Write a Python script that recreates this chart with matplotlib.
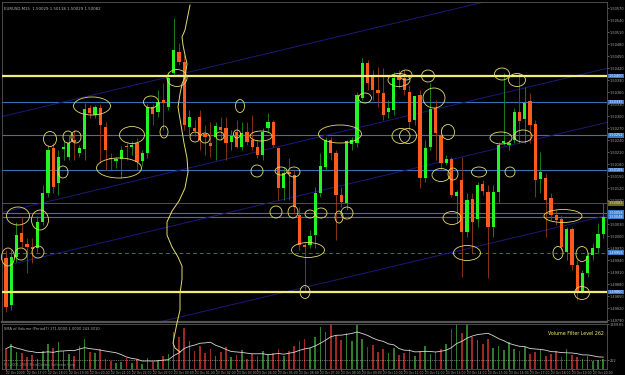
"""EURUSD M15 chart with hand-drawn levels, MT4 style."""

import numpy as np
import pandas as pd
import matplotlib
matplotlib.use("Agg")
import matplotlib.pyplot as plt
import matplotlib.transforms as mtransforms
from matplotlib.patches import Ellipse
from matplotlib.ticker import MultipleLocator, FormatStrFormatter

plt.rcParams.update({"font.family": "DejaVu Sans", "font.size": 3})

W, H = 625, 375

# OHLC, 15 minute bars, 22 Oct 16:00 -> 23 Oct 20:30
opens = [1.49945, 1.49828, 1.49948, 1.50008, 1.49980, 1.49973, 1.49970, 1.50035, 1.50108, 1.50220,
         1.50133, 1.50218, 1.50198, 1.50240, 1.50208, 1.50218, 1.50320, 1.50303, 1.50320, 1.50273,
         1.50195, 1.50188, 1.50193, 1.50225, 1.50223, 1.50233, 1.50188, 1.50208, 1.50323, 1.50310,
         1.50340, 1.50323, 1.50408, 1.50460, 1.50435, 1.50273, 1.50270, 1.50298, 1.50255, 1.50233,
         1.50248, 1.50273, 1.50270, 1.50235, 1.50260, 1.50223, 1.50260, 1.50240, 1.50223, 1.50203,
         1.50270, 1.50285, 1.50220, 1.50120, 1.50160, 1.50153, 1.50053, 1.49978, 1.49978, 1.50003,
         1.50108, 1.50173, 1.50240, 1.50208, 1.50103, 1.50082, 1.50230, 1.50233, 1.50345, 1.50433,
         1.50398, 1.50365, 1.50358, 1.50310, 1.50315, 1.50398, 1.50395, 1.50360, 1.50290, 1.50353,
         1.50145, 1.50223, 1.50320, 1.50253, 1.50183, 1.50193, 1.50100, 1.50140, 1.50010, 1.50093,
         1.50043, 1.50130, 1.50110, 1.50023, 1.50110, 1.50233, 1.50228, 1.50240, 1.50310, 1.50293,
         1.50338, 1.50280, 1.50143, 1.50145, 1.50095, 1.50053, 1.50043, 1.49960, 1.50018, 1.49928,
         1.49860, 1.49908, 1.49953, 1.49970, 1.50005]
highs = [1.49965, 1.49965, 1.50035, 1.50048, 1.49995, 1.49995, 1.50050, 1.50128, 1.50228, 1.50233,
         1.50215, 1.50240, 1.50253, 1.50265, 1.50228, 1.50333, 1.50328, 1.50328, 1.50330, 1.50285,
         1.50208, 1.50198, 1.50225, 1.50233, 1.50238, 1.50245, 1.50215, 1.50330, 1.50330, 1.50365,
         1.50383, 1.50410, 1.50545, 1.50483, 1.50453, 1.50315, 1.50290, 1.50315, 1.50278, 1.50285,
         1.50285, 1.50298, 1.50298, 1.50265, 1.50290, 1.50285, 1.50285, 1.50303, 1.50240, 1.50270,
         1.50308, 1.50290, 1.50223, 1.50173, 1.50195, 1.50165, 1.50073, 1.49983, 1.50015, 1.50123,
         1.50208, 1.50248, 1.50248, 1.50215, 1.50123, 1.50240, 1.50248, 1.50360, 1.50445, 1.50440,
         1.50415, 1.50423, 1.50420, 1.50340, 1.50410, 1.50415, 1.50415, 1.50378, 1.50350, 1.50365,
         1.50240, 1.50383, 1.50340, 1.50273, 1.50203, 1.50198, 1.50115, 1.50198, 1.50108, 1.50108,
         1.50135, 1.50140, 1.50128, 1.50128, 1.50235, 1.50408, 1.50240, 1.50320, 1.50408, 1.50373,
         1.50358, 1.50290, 1.50210, 1.50158, 1.50108, 1.50065, 1.50053, 1.50023, 1.50023, 1.49940,
         1.49915, 1.49960, 1.49983, 1.50033, 1.50082]
lows = [1.49810, 1.49815, 1.49935, 1.49973, 1.49908, 1.49933, 1.49960, 1.50028, 1.50098, 1.50108,
        1.50103, 1.50190, 1.50190, 1.50190, 1.50198, 1.50190, 1.50295, 1.50295, 1.50183, 1.50165,
        1.50165, 1.50170, 1.50145, 1.50190, 1.50203, 1.50165, 1.50175, 1.50195, 1.50278, 1.50298,
        1.50265, 1.50315, 1.50400, 1.50428, 1.50265, 1.50253, 1.50250, 1.50215, 1.50203, 1.50198,
        1.50190, 1.50240, 1.50190, 1.50215, 1.50220, 1.50215, 1.50228, 1.50215, 1.50195, 1.50190,
        1.50260, 1.50223, 1.50090, 1.50090, 1.50090, 1.50058, 1.49965, 1.49865, 1.49970, 1.49970,
        1.50098, 1.50165, 1.50190, 1.49990, 1.50073, 1.50065, 1.50215, 1.50223, 1.50340, 1.50365,
        1.50340, 1.50323, 1.50290, 1.50295, 1.50303, 1.50370, 1.50353, 1.50265, 1.50278, 1.50120,
        1.50135, 1.50215, 1.50190, 1.50165, 1.50178, 1.50098, 1.50033, 1.49898, 1.49998, 1.49958,
        1.50023, 1.50103, 1.49895, 1.49998, 1.50082, 1.50228, 1.50215, 1.50233, 1.50233, 1.50233,
        1.50233, 1.50098, 1.50108, 1.49998, 1.50040, 1.50028, 1.49965, 1.49940, 1.49915, 1.49840,
        1.49858, 1.49898, 1.49940, 1.49958, 1.49995]
closes = [1.49823, 1.49948, 1.50003, 1.49985, 1.49973, 1.49968, 1.50035, 1.50108, 1.50215, 1.50123,
          1.50198, 1.50223, 1.50233, 1.50235, 1.50220, 1.50318, 1.50308, 1.50323, 1.50278, 1.50215,
          1.50193, 1.50193, 1.50215, 1.50223, 1.50228, 1.50185, 1.50208, 1.50323, 1.50305, 1.50335,
          1.50333, 1.50395, 1.50465, 1.50435, 1.50278, 1.50298, 1.50263, 1.50240, 1.50248, 1.50225,
          1.50275, 1.50265, 1.50233, 1.50250, 1.50223, 1.50258, 1.50235, 1.50223, 1.50203, 1.50260,
          1.50285, 1.50228, 1.50120, 1.50158, 1.50155, 1.50073, 1.49978, 1.49973, 1.50000, 1.50108,
          1.50175, 1.50240, 1.50208, 1.50103, 1.50085, 1.50238, 1.50240, 1.50353, 1.50433, 1.50383,
          1.50365, 1.50358, 1.50303, 1.50320, 1.50395, 1.50390, 1.50365, 1.50285, 1.50350, 1.50145,
          1.50220, 1.50318, 1.50258, 1.50183, 1.50193, 1.50103, 1.50110, 1.50010, 1.50090, 1.50035,
          1.50128, 1.50113, 1.50023, 1.50110, 1.50228, 1.50238, 1.50233, 1.50310, 1.50288, 1.50333,
          1.50278, 1.50140, 1.50160, 1.50090, 1.50053, 1.50040, 1.49973, 1.50018, 1.49928, 1.49860,
          1.49908, 1.49950, 1.49970, 1.50005, 1.50048]
volumes = [620, 780, 520, 480, 350, 420, 310, 560, 760, 640,
           820, 540, 460, 380, 700, 920, 520, 480, 610, 300,
           250, 180, 220, 340, 160, 290, 150, 330, 200, 260,
           380, 450, 1150, 980, 1250, 860, 540,
           700, 480, 620, 390, 520, 660, 350, 430, 580, 300, 460, 390, 540, 420,
           480, 620, 380, 540, 700, 860, 920, 640,
           980, 1300, 1150, 1400, 1050, 900,
           1120, 860, 1350, 920, 680, 740, 520, 600, 480, 650, 420,
           500, 620, 380, 560, 690, 450, 520, 610,
           760, 1240, 1420, 1100, 1500, 980,
           880, 760, 920, 640, 700, 580, 820, 600, 540,
           680, 450, 520, 600, 380, 470, 540, 360, 610,
           420, 350, 290, 380, 240, 270, 300]

# horizontal levels drawn by the trader
yellow_levels = [1.50400, 1.49860]
blue_levels = [1.50335, 1.50252, 1.50165, 1.50058, 1.50048]
dashed_level = 1.49958
bid_level = 1.50082
# parallel trend lines: price at bar 0 and at bar 114
trend_start = [1.50301, 1.50061, 1.49926, 1.49694]
trend_end = [1.50656, 1.50417, 1.50282, 1.50049]
volume_filter = 262

hour_labels = ["22 Oct 2009"] + [f"22 Oct {h}:00" for h in range(17, 24)] + \
              [f"23 Oct {h:02d}:00" for h in range(0, 21)]

# hand-drawn marks on the screenshot (screen pixels)
sketch_curve = [(190, 5), (188, 15), (185, 30), (182, 37), (183, 45), (185, 55), (187, 64),
                (185, 77), (182, 84), (180, 94), (178, 107), (181, 125), (184, 143), (187, 158),
                (188, 172), (185, 188), (179, 201), (172, 211), (167, 222), (167, 235), (172, 247),
                (178, 257), (182, 266), (182, 279), (180, 294), (180, 310), (177, 323), (175, 333),
                (173, 343), (175, 348), (180, 352)]
sketch_circles = [(92, 106, 37, 18), (50, 139, 13, 15), (68, 137, 10, 12), (76, 137, 10, 12),
                  (63, 172, 10, 12), (132, 135, 25, 17), (119, 168, 45, 20), (151, 102, 15, 12),
                  (164, 132, 8, 12), (18, 216, 23, 18), (40, 220, 17, 20), (8, 257, 13, 18),
                  (21, 254, 12, 12), (38, 252, 12, 12), (177, 78, 20, 17), (195, 137, 10, 10),
                  (205, 138, 10, 10), (240, 106, 9, 13), (220, 136, 8, 8), (237, 134, 7, 8),
                  (261, 136, 22, 10), (257, 171, 12, 12), (281, 171, 12, 8), (294, 172, 12, 10),
                  (276, 212, 12, 12), (293, 212, 10, 12), (310, 214, 10, 8), (321, 213, 12, 10),
                  (339, 217, 8, 12), (347, 213, 12, 12), (308, 250, 33, 15), (305, 292, 10, 13),
                  (340, 134, 43, 18), (365, 98, 13, 10), (399, 80, 22, 13), (401, 136, 18, 15),
                  (406, 75, 12, 10), (428, 76, 13, 12), (434, 98, 22, 20), (408, 136, 17, 15),
                  (448, 132, 13, 15), (441, 175, 18, 13), (453, 174, 10, 12), (479, 172, 15, 10),
                  (452, 218, 18, 13), (467, 253, 27, 15), (502, 74, 15, 12), (517, 80, 17, 13),
                  (501, 138, 22, 12), (523, 136, 18, 12), (510, 172, 10, 10), (563, 216, 38, 13),
                  (558, 253, 10, 13), (582, 254, 12, 15), (582, 293, 15, 13)]

BG = "black"
BULL, BEAR = "#22f522", "#ff5a1e"
SKETCH = "#e6dc6e"
GRID = "#555555"


def px_rect(x0, y0, x1, y1):
    return [x0 / W, 1 - y1 / H, (x1 - x0) / W, (y1 - y0) / H]


fig = plt.figure(figsize=(W / 100, H / 100), dpi=100, facecolor=BG)
ax = fig.add_axes(px_rect(2, 2, 607, 322), facecolor=BG)
axv = fig.add_axes(px_rect(2, 324, 607, 368.6), facecolor=BG)

o, h, l, c = map(np.array, (opens, highs, lows, closes))
idx = np.arange(len(o))
up = c >= o
col = np.where(up, BULL, BEAR)

# levels and trend lines (behind candles)
for p in blue_levels:
    ax.axhline(p, color="#3d6fb8", lw=0.8, zorder=1)
ax.axhline(dashed_level, color="#3d5fa8", lw=0.7, ls=(0, (4, 3)), zorder=1)
ax.axhline(bid_level, color="#55551e", lw=0.7, zorder=1)
for s, e in zip(trend_start, trend_end):
    ax.axline((0, s), (len(o) - 1, e), color="#1a1a78", lw=0.7, zorder=1)
for p in yellow_levels:
    ax.axhline(p, color="#f2ee7a", lw=1.6, zorder=4)

# candles
ax.vlines(idx, l, h, colors=np.where(up, "#1f8f1f", "#9a3a1a"), lw=0.6, zorder=2)
body = np.maximum(np.abs(c - o), 0.00002)
ax.bar(idx, body, bottom=np.minimum(o, c), width=0.62, color=col, lw=0, zorder=3)

ax.set_xlim(-0.76, 114.7)
ax.set_ylim(1.49785, 1.50585)
ax.yaxis.tick_right()
ax.yaxis.set_major_locator(MultipleLocator(0.0003))
ax.yaxis.set_major_formatter(FormatStrFormatter("%.5f"))
ax.tick_params(axis="y", colors="#aaaaaa", labelsize=2.5, length=1.2, width=0.4, pad=0.8)
ax.tick_params(axis="x", bottom=False, labelbottom=False)
for sp in ax.spines.values():
    sp.set_color(GRID)
    sp.set_linewidth(0.6)
ax.spines["bottom"].set_linewidth(1.6)

# highlighted price labels on the axis
trans = mtransforms.blended_transform_factory(ax.transAxes, ax.transData)
for p in yellow_levels + blue_levels + [dashed_level]:
    ax.text(1.003, p, f"{p:.5f}", transform=trans, fontsize=2.5, color="white", va="center",
            ha="left", clip_on=False, zorder=6,
            bbox=dict(boxstyle="square,pad=0.12", fc="#3a78c8", ec="none"))
ax.text(1.003, bid_level, f"{bid_level:.5f}", transform=trans, fontsize=2.5, color="#e8e8b0",
        va="center", ha="left", clip_on=False, zorder=6,
        bbox=dict(boxstyle="square,pad=0.12", fc="#6b6b1e", ec="none"))

ax.text(0.004, 0.985, "EURUSD,M15  1.50029 1.50118 1.50029 1.50082", transform=ax.transAxes,
        fontsize=2.8, color="#bbbbbb", va="top", ha="left")

# volume panel
vol = pd.Series(volumes, dtype=float)
vol_ma = vol.rolling(8, min_periods=1).mean()
axv.bar(idx, vol, width=0.32, color=np.where(up, "#2f7a2f", "#a02626"), lw=0)
axv.plot(idx, vol_ma, color="#d8d8d8", lw=0.6)
axv.axhline(volume_filter, color="#d0d0b0", lw=0.5, ls=(0, (1, 1.6)))
axv.set_xlim(-0.76, 114.7)
axv.set_ylim(0, 1389.65)
axv.yaxis.tick_right()
axv.set_yticks([volume_filter, 1389.65])
axv.set_yticklabels(["262", "1389.65"])
axv.tick_params(axis="y", colors="#aaaaaa", labelsize=2.5, length=1.2, width=0.4, pad=0.8)
axv.set_xticks(idx[::4][:len(hour_labels)])
axv.set_xticklabels(hour_labels)
axv.tick_params(axis="x", colors="#aaaaaa", labelsize=2.2, length=1.2, width=0.4, pad=0.6)
for lab in axv.get_xticklabels():
    lab.set_ha("left")
for sp in axv.spines.values():
    sp.set_color(GRID)
    sp.set_linewidth(0.6)
axv.text(0.003, 0.93, "SMA of Volume (Period7) 171.0000 1.0000 243.3010", transform=axv.transAxes,
         fontsize=2.6, color="#aaaaaa", va="top", ha="left")
axv.text(0.995, 0.85, "Volume Filter Level 262", transform=axv.transAxes,
         fontsize=3.4, color="#f0ea70", va="top", ha="right")
axv.text(0.003, 0.04, "(C) 2001-2009 MetaQuotes Software Corp.", transform=axv.transAxes,
         fontsize=2.4, color="#888888", va="bottom", ha="left")

# hand-drawn sketches over everything
xs = [p[0] / W for p in sketch_curve]
ys = [1 - p[1] / H for p in sketch_curve]
fig.add_artist(plt.Line2D(xs, ys, transform=fig.transFigure, color=SKETCH, lw=0.7, zorder=10))
for cx, cy, w, hh in sketch_circles:
    fig.add_artist(Ellipse((cx / W, 1 - cy / H), w / W, hh / H, transform=fig.transFigure,
                           fill=False, ec=SKETCH, lw=0.6, zorder=10))

fig.savefig("out.png", dpi=100, facecolor=BG)
